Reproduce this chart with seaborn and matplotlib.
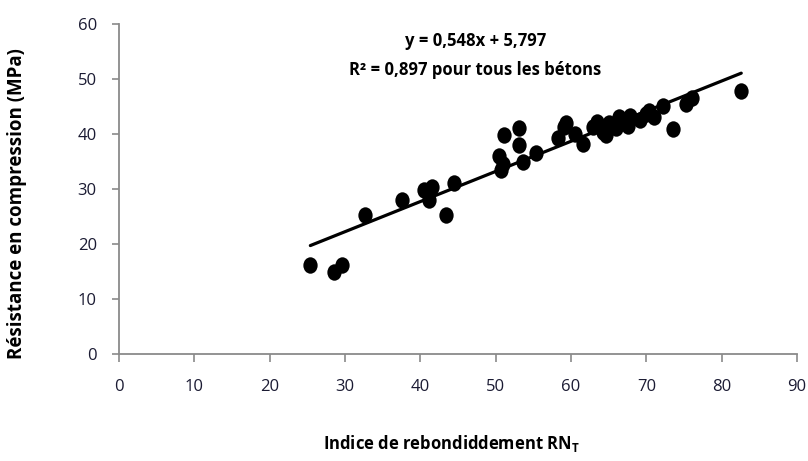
import numpy as np
import pandas as pd
import matplotlib
matplotlib.use("Agg")
import matplotlib.pyplot as plt
from matplotlib import font_manager
from matplotlib.path import Path
from matplotlib.transforms import Affine2D
import seaborn as sns

# Rebound index (RN_T) and compressive strength (MPa) for all concretes
rebound_index = [25.4, 28.5, 29.6, 32.7, 37.6, 40.5, 41.6, 41.1, 43.4, 44.5,
                 50.5, 50.7, 51.0, 51.1, 53.1, 53.1, 53.6, 55.4, 58.3, 59.1,
                 59.4, 60.5, 61.6, 62.9, 63.5, 64.2, 64.7, 65.0, 66.0, 66.4,
                 67.5, 67.8, 69.1, 70.0, 70.4, 71.0, 72.2, 73.5, 75.3, 76.0,
                 82.6]
strength = [16.2, 15.0, 16.2, 25.3, 28.0, 29.8, 30.4, 28.0, 25.3, 31.0,
            36.0, 33.5, 34.6, 39.9, 41.0, 38.0, 34.9, 36.5, 39.3, 41.3,
            42.0, 40.0, 38.2, 41.3, 42.2, 40.3, 39.8, 42.0, 41.0, 43.0,
            41.5, 43.3, 42.5, 43.7, 44.2, 43.0, 45.0, 40.9, 45.5, 46.5,
            47.8]

# Linear fit reported on the chart
slope, intercept = 0.548, 5.797
r_squared = 0.897

x_ticks = list(range(0, 91, 10))
y_ticks = list(range(0, 61, 10))

sns.set_theme(style="white")

available = {f.name for f in font_manager.fontManager.ttflist}
family = next((f for f in ["Liberation Sans Narrow", "Open Sans", "Liberation Sans"]
               if f in available), "DejaVu Sans")
plt.rcParams["font.family"] = [family, "DejaVu Sans"]

df = pd.DataFrame({"RN": rebound_index, "fc": strength})

fig = plt.figure(figsize=(8.08, 4.61), dpi=100)
ax = fig.add_axes([119 / 808, 1 - 354 / 461, (797 - 119) / 808, (354 - 24) / 461])

# slightly tall oval marker
oval = Path.unit_circle().transformed(Affine2D().scale(1.0, 1.15))
sns.scatterplot(data=df, x="RN", y="fc", ax=ax, color="black", marker=oval,
                s=140, edgecolor="black", linewidth=0, zorder=3)

xfit = np.array([min(rebound_index), max(rebound_index)])
sns.lineplot(x=xfit, y=slope * xfit + intercept, ax=ax, color="black",
             linewidth=2.3, zorder=2)

ax.set_xlim(0, 90)
ax.set_ylim(0, 60)
ax.set_xticks(x_ticks)
ax.set_yticks(y_ticks)

axis_grey = "#8a8a8a"
label_col = "#1b1b33"
for side in ["top", "right"]:
    ax.spines[side].set_visible(False)
for side in ["left", "bottom"]:
    ax.spines[side].set_color(axis_grey)
    ax.spines[side].set_linewidth(1.3)

ax.tick_params(axis="x", direction="out", length=6, width=1.2, color=axis_grey,
               pad=12, labelsize=12, labelcolor=label_col, bottom=True)
ax.tick_params(axis="y", direction="out", length=5, width=1.2, color=axis_grey,
               pad=11, labelsize=12, labelcolor=label_col, left=True)

ax.set_xlabel(r"Indice de rebondiddement RN$_\mathregular{T}$", fontsize=12,
              fontweight="bold", color="black")
ax.set_ylabel("Résistance en compression (MPa)", fontsize=13.5,
              fontweight="bold", color="black")
ax.xaxis.set_label_coords(0.49, -0.24)
ax.yaxis.set_label_coords(-0.135, 0.455)

eq = f"y = {slope:.3f}x + {intercept:.3f}".replace(".", ",")
r2 = f"R² = {r_squared:.3f} pour tous les bétons".replace(".", ",")
ax.text(47.3, 57.0, eq, ha="center", va="center", fontsize=12,
        fontweight="bold", color="black")
ax.text(47.3, 51.6, r2, ha="center", va="center", fontsize=12,
        fontweight="bold", color="black")

fig.savefig("out.png", dpi=100, facecolor="white")
